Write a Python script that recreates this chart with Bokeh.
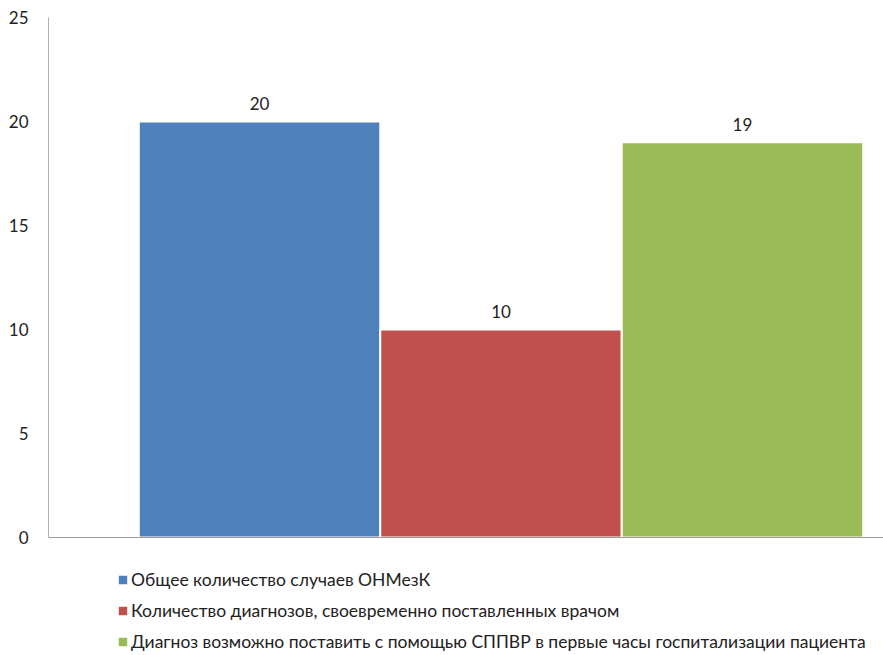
from bokeh.plotting import figure
from bokeh.models import (ColumnDataSource, Range1d, FixedTicker, Legend, LegendItem, LabelSet, Span)
from bokeh.core.properties import value
from bokeh.embed import file_html
from bokeh.resources import INLINE

categories = ["Общее количество случаев ОНМезК",
              "Количество диагнозов, своевременно поставленных врачом",
              "Диагноз возможно поставить с помощью СППВР в первые часы госпитализации пациента"]
values = [20, 10, 19]
colors = ["#4F81BD", "#C0504D", "#9BBB59"]
y_ticks = [0, 5, 10, 15, 20, 25]

FONT = "Lato"

src = ColumnDataSource(dict(x=list(range(len(values))), top=values, color=colors,
                            label=[str(v) for v in values], cat=categories))

p = figure(width=883, height=655, output_backend="svg", toolbar_location=None,
           x_range=Range1d(-0.874, 2.584), y_range=Range1d(-5.673, 25),
           min_border_left=48, min_border_right=0, min_border_top=17, min_border_bottom=0)
p.outline_line_color = None
p.xgrid.visible = False
p.ygrid.visible = False
p.xaxis.visible = False
p.background_fill_color = "white"
p.border_fill_color = "white"

r = p.vbar(x="x", top="top", bottom=0, width=1.0, color="color", line_color="white",
           line_width=2, source=src)

p.add_layout(Span(location=0, dimension="width", line_color="#9A9A9A", line_width=1))

p.yaxis.ticker = FixedTicker(ticks=y_ticks)
p.yaxis.bounds = (0, 25)
p.yaxis.major_tick_line_color = None
p.yaxis.minor_tick_line_color = None
p.yaxis.axis_line_color = "#B0B0B0"
p.yaxis.major_label_text_font = FONT
p.yaxis.major_label_text_font_size = "17px"
p.yaxis.major_label_text_color = "#222222"
p.yaxis.major_label_standoff = 14

labels = LabelSet(x="x", y="top", text="label", source=src, text_align="center",
                  text_baseline="middle", y_offset=18, text_font=value(FONT),
                  text_font_size=value("17px"), text_color=value("#222222"))
p.add_layout(labels)

items = [LegendItem(label=c, renderers=[r], index=i) for i, c in enumerate(categories)]
legend = Legend(items=items, orientation="vertical", location=(68, 3),
                glyph_width=13, glyph_height=13, label_text_font=FONT,
                label_text_font_size="17.5px", label_text_color="#222222",
                spacing=10, padding=0, margin=0, border_line_color=None,
                background_fill_alpha=0, label_standoff=2)
p.add_layout(legend)

open("out.html", "w").write(file_html(p, INLINE))
